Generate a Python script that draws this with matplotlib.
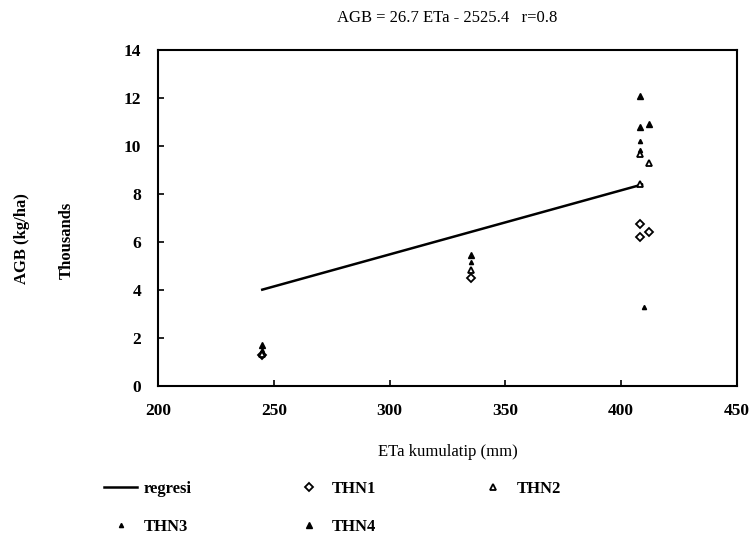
import matplotlib
matplotlib.use("Agg")
import matplotlib.pyplot as plt
import numpy as np

# cumulative ETa (mm) and AGB (thousand kg/ha) per season
thn1_x = [245, 335, 408, 408, 412]
thn1_y = [1.3, 4.5, 6.75, 6.2, 6.4]
thn2_x = [245, 335, 408, 412, 408]
thn2_y = [1.35, 4.85, 9.65, 9.3, 8.4]
thn3_x = [245, 335, 408, 408, 410]
thn3_y = [1.5, 5.15, 10.2, 9.85, 3.3]
thn4_x = [245, 335, 408, 408, 412]
thn4_y = [1.7, 5.45, 12.1, 10.8, 10.9]

# regression AGB = 26.7 ETa - 2525.4 (kg/ha)
reg_slope = 26.7
reg_icept = -2525.4
reg_range = [245, 409]

x_ticks = [200, 250, 300, 350, 400, 450]
y_ticks = [0, 2, 4, 6, 8, 10, 12, 14]

plt.rcParams["font.family"] = ["Liberation Serif", "DejaVu Serif"]
plt.rcParams["font.weight"] = "bold"
plt.rcParams["font.size"] = 12

fig = plt.figure(figsize=(7.49, 5.37), dpi=100)
ax = fig.add_axes([0.211, 0.281, 0.773, 0.626])

rx = np.array(reg_range, dtype=float)
ry = (reg_slope * rx + reg_icept) / 1000.0
h_reg, = ax.plot(rx, ry, color="black", lw=1.8, label="regresi")

h1, = ax.plot(thn1_x, thn1_y, ls="none", marker="D", ms=4.5, mfc="white",
              mec="black", mew=1.3, label="THN1")
h2, = ax.plot(thn2_x, thn2_y, ls="none", marker="^", ms=5, mfc="white",
              mec="black", mew=1.3, label="THN2")
h3, = ax.plot(thn3_x, thn3_y, ls="none", marker="^", ms=3, color="black",
              label="THN3")
h4, = ax.plot(thn4_x, thn4_y, ls="none", marker="^", ms=5, color="black",
              label="THN4")

ax.set_xlim(200, 450)
ax.set_ylim(0, 14)
ax.set_xticks(x_ticks)
ax.set_yticks(y_ticks)
ax.tick_params(direction="in", length=4, width=1.2, top=False, right=False,
               labelsize=12.5)
ax.tick_params(axis="x", pad=12)
ax.tick_params(axis="y", pad=12)
for s in ax.spines.values():
    s.set_linewidth(1.5)

ax.set_title("AGB = 26.7 ETa - 2525.4   r=0.8", fontsize=12, pad=20)
ax.set_xlabel("ETa kumulatip (mm)", fontsize=12, labelpad=18)
fig.text(0.030, 0.555, "AGB (kg/ha)", rotation=90, ha="center", va="center",
         fontsize=12)
fig.text(0.089, 0.552, "Thousands", rotation=90, ha="center", va="center",
         fontsize=12)

# row-major order for a 3-column legend
handles = [h_reg, h3, h1, h4, h2]
fig.legend(handles=handles, labels=[h.get_label() for h in handles],
           loc="upper left", bbox_to_anchor=(0.121, 0.130), ncol=3,
           frameon=False, handlelength=2.0, handletextpad=0.4,
           columnspacing=6.0, labelspacing=1.35, fontsize=12,
           borderpad=0.3)

fig.savefig("out.png", dpi=100)
